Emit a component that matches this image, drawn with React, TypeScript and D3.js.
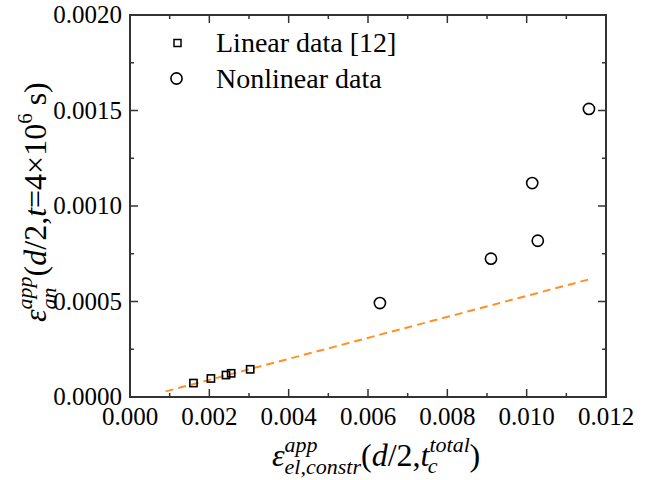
import React from "react";
import * as d3 from "d3";

// linear data [12]
const linearX = [0.0016, 0.00204, 0.00242, 0.00255, 0.00303];
const linearY = [0.000073, 0.000097, 0.000115, 0.000124, 0.000145];

// nonlinear data
const nonlinearX = [0.0063, 0.0091, 0.01014, 0.01028, 0.01157];
const nonlinearY = [0.000492, 0.000724, 0.00112, 0.000818, 0.001508];

// dashed fit line (end points)
const fitX = [0.0009, 0.01163];
const fitY = [0.0000293, 0.000619];

const xMajor = [0, 0.002, 0.004, 0.006, 0.008, 0.01, 0.012];
const xMinor = [0.001, 0.003, 0.005, 0.007, 0.009, 0.011];
const yMajor = [0, 0.0005, 0.001, 0.0015, 0.002];
const yMinor = [0.00025, 0.00075, 0.00125, 0.00175];

const W = 647;
const H = 480;
const margin = { top: 15, right: 41, bottom: 83, left: 130 };
const FONT = "Liberation Serif, Times New Roman, serif";
const AXIS = "#333";
const ORANGE = "#ff9124";

export default function App() {
  const x = d3
    .scaleLinear()
    .domain([0, 0.012])
    .range([margin.left, W - margin.right]);
  const y = d3
    .scaleLinear()
    .domain([0, 0.002])
    .range([H - margin.bottom, margin.top]);

  const [x0, x1] = x.range();
  const [y0, y1] = y.range(); // y0 bottom, y1 top

  const line = d3
    .line<number>()
    .x((d) => x(d))
    .y((_, i) => y(fitY[i]));

  const major = 8;
  const minor = 4;

  return (
    <svg width={W} height={H} style={{ position: "absolute", left: 0, top: 0 }}>
      <rect width={W} height={H} fill="#fff" />

      {/* fit line */}
      <path
        d={line(fitX) || ""}
        fill="none"
        stroke={ORANGE}
        strokeWidth={2}
        strokeDasharray="8 5"
      />

      {/* ticks */}
      <g stroke={AXIS} strokeWidth={1.5}>
        {xMajor.map((t) => (
          <g key={"xm" + t}>
            <line x1={x(t)} x2={x(t)} y1={y0} y2={y0 - major} />
            <line x1={x(t)} x2={x(t)} y1={y1} y2={y1 + major} />
          </g>
        ))}
        {xMinor.map((t) => (
          <g key={"xn" + t}>
            <line x1={x(t)} x2={x(t)} y1={y0} y2={y0 - minor} />
            <line x1={x(t)} x2={x(t)} y1={y1} y2={y1 + minor} />
          </g>
        ))}
        {yMajor.map((t) => (
          <g key={"ym" + t}>
            <line x1={x0} x2={x0 + major} y1={y(t)} y2={y(t)} />
            <line x1={x1} x2={x1 - major} y1={y(t)} y2={y(t)} />
          </g>
        ))}
        {yMinor.map((t) => (
          <g key={"yn" + t}>
            <line x1={x0} x2={x0 + minor} y1={y(t)} y2={y(t)} />
            <line x1={x1} x2={x1 - minor} y1={y(t)} y2={y(t)} />
          </g>
        ))}
      </g>

      {/* frame */}
      <rect
        x={x0}
        y={y1}
        width={x1 - x0}
        height={y0 - y1}
        fill="none"
        stroke={AXIS}
        strokeWidth={2}
      />

      {/* tick labels */}
      <g fontSize={25} fill="#000" fontFamily={FONT}>
        {xMajor.map((t) => (
          <text key={"xl" + t} x={x(t)} y={y0 + 28} textAnchor="middle">
            {d3.format(".3f")(t)}
          </text>
        ))}
        {yMajor.map((t) => (
          <text key={"yl" + t} x={x0 - 8} y={y(t) + 8} textAnchor="end">
            {d3.format(".4f")(t)}
          </text>
        ))}
      </g>

      {/* data */}
      <g fill="none" stroke="#000" strokeWidth={1.6}>
        {linearX.map((v, i) => (
          <rect key={"s" + i} x={x(v) - 3.6} y={y(linearY[i]) - 3.6} width={7.2} height={7.2} />
        ))}
        {nonlinearX.map((v, i) => (
          <circle key={"c" + i} cx={x(v)} cy={y(nonlinearY[i])} r={5.6} />
        ))}
      </g>

      {/* legend */}
      <g fontFamily={FONT}>
        <rect x={174} y={39.5} width={7} height={7} fill="none" stroke="#000" strokeWidth={1.5} />
        <text x={216} y={52} fontSize={28}>Linear data [12]</text>
        <circle cx={176.5} cy={78.5} r={5.6} fill="none" stroke="#000" strokeWidth={1.6} />
        <text x={216} y={87.5} fontSize={28}>Nonlinear data</text>
      </g>

      {/* x title */}
      <text x={272} y={466} fontSize={32} fontFamily={FONT}>
        <tspan fontStyle="italic">ε</tspan>
        <tspan fontSize={22} fontStyle="italic" dy={-14}>app</tspan>
        <tspan fontSize={22} fontStyle="italic" dx={-33} dy={22}>el,constr</tspan>
        <tspan dy={-8}>(</tspan>
        <tspan fontStyle="italic">d</tspan>
        <tspan>/2,</tspan>
        <tspan fontStyle="italic">t</tspan>
        <tspan fontSize={22} fontStyle="italic" dy={-14}>total</tspan>
        <tspan fontSize={22} fontStyle="italic" dx={-42} dy={21}>c</tspan>
        <tspan dx={32} dy={-7}>)</tspan>
      </text>

      {/* y title */}
      <text transform="translate(46,322) rotate(-90)" fontSize={32} fontFamily={FONT}>
        <tspan fontStyle="italic">ε</tspan>
        <tspan fontSize={22} fontStyle="italic" dy={-14}>app</tspan>
        <tspan fontSize={22} fontStyle="italic" dx={-33} dy={24}>an</tspan>
        <tspan dx={11} dy={-10}>(</tspan>
        <tspan fontStyle="italic">d</tspan>
        <tspan>/2,</tspan>
        <tspan fontStyle="italic">t</tspan>
        <tspan>=4×10</tspan>
        <tspan fontSize={21} dy={-14}>6</tspan>
        <tspan dy={14}> s)</tspan>
      </text>
    </svg>
  );
}
